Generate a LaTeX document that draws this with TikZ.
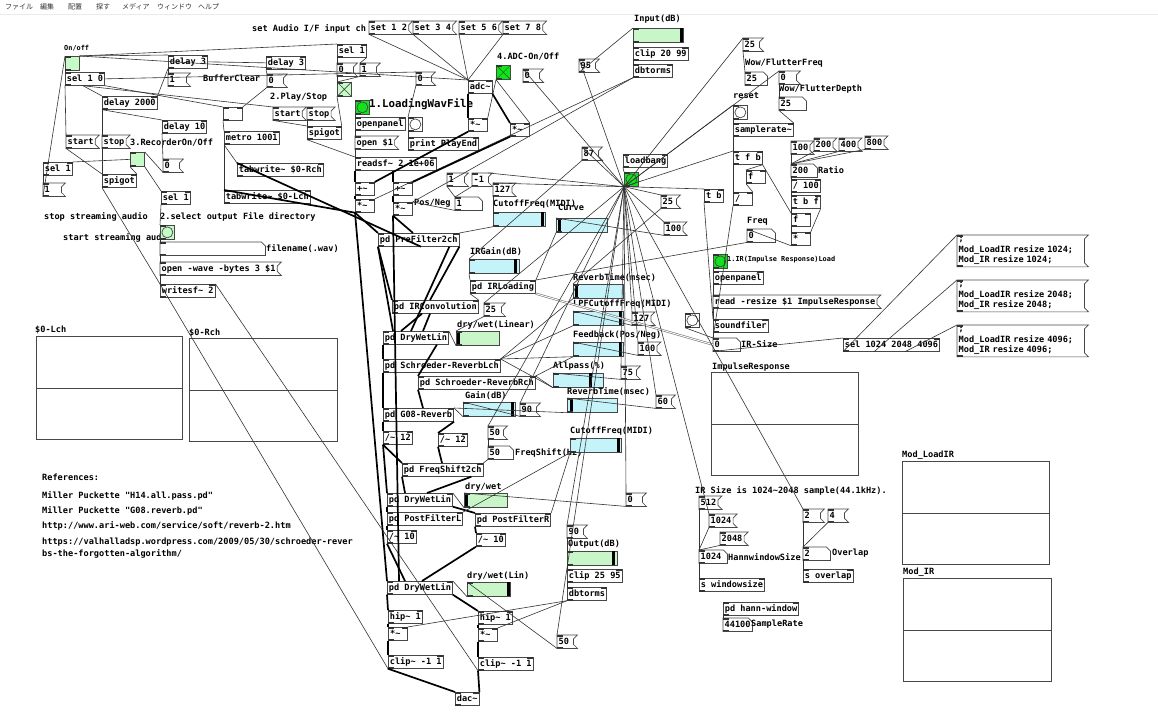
\documentclass[tikz,border=0pt]{standalone}
\usepackage{fontspec}
\setmonofont{DejaVu Sans Mono}
\newfontfamily\jpfont{Noto Sans CJK JP}
\usepackage{tikz}
\definecolor{tggreen}{RGB}{198,250,198}
\definecolor{bggreen}{RGB}{20,225,30}
\definecolor{slcyan}{RGB}{196,244,250}
\definecolor{slgreen}{RGB}{200,246,200}
\def\pdfont{\fontsize{8.6}{10.5}\selectfont\ttfamily\bfseries}
\def\pdsmall{\fontsize{6.9}{8}\selectfont\ttfamily\bfseries}
\def\pdbig{\fontsize{10.8}{12}\selectfont\ttfamily\bfseries}
\tikzset{
  pdline/.style={draw=black!72, line width=0.7pt},
  pdtxt/.style={anchor=north west, inner xsep=1.5pt, inner ysep=0pt, minimum height=13pt, text height=7pt, text depth=2pt, font=\pdfont},
  pdobj/.style={pdtxt, pdline, minimum width=19pt},
  pdcom/.style={anchor=north west, inner sep=0pt, font=\pdfont},
  pdsl/.style={pdline, anchor=north west, minimum height=14pt, inner sep=0pt},
  pdtg/.style={pdline, anchor=north west, minimum size=14pt, inner sep=0pt},
  pdarr/.style={pdline, anchor=north west, inner sep=0pt},
  menu/.style={anchor=west, inner sep=0pt, text=black!80, font=\jpfont\fontsize{7}{8}\selectfont},
  ctl/.style={black!80, line width=0.6pt},
  sig/.style={black, line width=1.7pt},
  irline/.style={black!55, double=white, double distance=0.9pt, line width=0.6pt},
}
\def\ports(#1){\fill[black!80] (#1.north west) rectangle ++(6,1.8); \fill[black!80] (#1.south west) rectangle ++(6,-1.8);}
\def\obj(#1)(#2)#3{\node[pdobj] (#1) at (#2) {#3}; \ports(#1) \fill[black!80] ([xshift=-6pt]#1.north east) rectangle ++(6,1.8);}
\def\msg[#1](#2)(#3)#4{\node[pdtxt,#1] (#2) at (#3) {#4};
  \draw[pdline] (#2.north west) -- ([xshift=4pt]#2.north east) -- ([yshift=-4pt]#2.north east) -- ([yshift=4pt]#2.south east) -- ([xshift=4pt]#2.south east) -- (#2.south west) -- cycle; \ports(#2)}
\def\num[#1](#2)(#3)#4{\node[pdtxt,#1] (#2) at (#3) {#4};
  \draw[pdline] (#2.north west) -- ([xshift=-4pt]#2.north east) -- ([yshift=-4pt]#2.north east) -- (#2.south east) -- (#2.south west) -- cycle; \ports(#2)}
\def\com(#1)(#2)#3{\node[pdcom] (#1) at (#2) {#3};}
\def\hsl(#1)(#2)#3#4#5{\node[pdsl, minimum width=#3pt, fill=#4] (#1) at (#2) {};
  \fill[black] ([xshift=#5pt]#1.north west) rectangle ++(3,14); \ports(#1)}
\def\tgl(#1)(#2)#3{\node[pdtg, fill=#3] (#1) at (#2) {}; \ports(#1)}
\def\bng(#1)(#2)#3{\node[pdtg, fill=#3] (#1) at (#2) {}; \draw[pdline] (#1.center) circle (5.5); \ports(#1)}
\def\arr(#1)(#2)#3#4{\node[pdarr, minimum width=#3pt, minimum height=#4pt] (#1) at (#2) {}; \draw[pdline] (#1.west) -- (#1.east);}

\begin{document}
\begin{tikzpicture}[x=1pt,y=-1pt]
			%%%%% START %%%%%
			\useasboundingbox (0,0) rectangle (1158,720);
			\fill[white] (0,0) rectangle (1158,720);
			
			\node[menu] (mnFile) at (5,7) {ファイル};
			\node[menu] (mnEdit) at (40,7) {編集};
			\node[menu] (mnPut) at (68,7) {配置};
			\node[menu] (mnFind) at (96,7) {探す};
			\node[menu] (mnMedia) at (122,7) {メディア};
			\node[menu] (mnWin) at (157,7) {ウィンドウ};
			\node[menu] (mnHelp) at (198,7) {ヘルプ};
			\draw[black!8] (0,14) -- (1158,14);
			
			\node[pdcom, font=\pdsmall] (cOnOff) at (64,45) {On/off};
			\tgl(tgOn)(65,56){tggreen}
			\obj(selA)(65,72){sel 1 0}
			\obj(dlyA)(168,55){delay 3}
			\obj(dlyB)(266,56){delay 3}
			\msg[text width=15pt](mOneA)(168,73){1}
			\com(cBuf)(203,75){BufferClear}
			\msg[text width=13pt](mZeroA)(267,74){0}
			\obj(dly2000)(102,96){delay 2000}
			\obj(eBox)(223,107){\hspace{8pt}}
			\com(cPlay)(270,93){2.Play/Stop}
			\msg[](mStartA)(273,107){start}
			\msg[](mStopA)(307,107){stop}
			\obj(spigotA)(307,126){spigot}
			\obj(dly10)(162,120){delay 10}
			\obj(metro)(224,131){metro 1001}
			\msg[](mStartB)(66,135){start}
			\msg[](mStopB)(102,135){stop}
			\com(cRec)(130,139){3.RecorderOn/Off}
			\tgl(tgRec)(130,152){tggreen}
			\msg[text width=13pt](mZeroB)(163,159){0}
			\obj(selB)(43,162){sel 1}
			\msg[text width=15pt](mOneB)(43,183){1}
			\obj(spigotB)(102,174){spigot}
			\obj(selC)(161,191){sel 1}
			\obj(tabR)(237,163){tabwrite\textasciitilde{} \$0-Rch}
			\obj(tabL)(224,190){tabwrite\textasciitilde{} \$0-Lch}
			\com(cStop)(44,212){stop streaming audio}
			\com(cDir)(160,212){2.select output File directory}
			\com(cStart)(63,233){start streaming audio}
			\bng(bngRec)(160,225){tggreen}
			\num[text width=102pt](symFile)(160,242){}
			\com(cFile)(266,244){filename(.wav)}
			\msg[](mOpenWav)(160,262){open -wave -bytes 3 \$1}
			\obj(writesf)(160,284){writesf\textasciitilde{} 2}
			
			\com(cLch)(35,326){\$0-Lch}
			\arr(arrL)(36,336){146}{103}
			\com(cRch)(189,329){\$0-Rch}
			\arr(arrR)(189,338){148}{103}
			
			\com(cRef)(42,474){References:}
			\com(cRefA)(42,491){Miller Puckette "H14.all.pass.pd"}
			\com(cRefB)(42,506){Miller Puckette "G08.reverb.pd"}
			\com(cRefC)(42,521){http://www.ari-web.com/service/soft/reverb-2.htm}
			\com(cRefD)(42,538){https://valhalladsp.wordpress.com/2009/05/30/schroeder-rever}
			\com(cRefE)(42,549){bs-the-forgotten-algorithm/}
			
			\com(cSet)(252,24){set Audio I/F input ch}
			\msg[](mSet12)(369,21){set 1 2}
			\msg[](mSet34)(413,21){set 3 4}
			\msg[](mSet56)(459,21){set 5 6}
			\msg[](mSet78)(503,21){set 7 8}
			\obj(selD)(337,44){sel 1}
			\msg[text width=13pt](mZeroC)(337,63){0}
			\msg[text width=13pt](mOneC)(360,63){1}
			\tgl(tgX)(337,82){tggreen}
			\draw[pdline] (tgX.north west) -- (tgX.south east) (tgX.north east) -- (tgX.south west);
			\msg[text width=12pt](mZeroD)(416,72){0}
			\obj(adc)(468,80){adc\textasciitilde}
			\com(cADC)(497,53){4.ADC-On/Off}
			\tgl(tgADC)(496,65){bggreen}
			\draw[black!60!green] (tgADC.north west) -- (tgADC.south east) (tgADC.north east) -- (tgADC.south west);
			\msg[text width=13pt](mZeroE)(523,69){0}
			\bng(bngLoad)(355,100){bggreen}
			\node[pdcom, font=\pdbig] (cLoad) at (369,99) {1.LoadingWavFile};
			\obj(openpanelA)(355,117){openpanel}
			\bng(bngPE)(408,117){white}
			\msg[](mOpen)(355,136){open \$1}
			\obj(printPE)(408,137){print PlayEnd}
			\obj(mulA)(468,118){*\textasciitilde\hphantom{0}}
			\obj(mulB)(510,123){*\textasciitilde\hphantom{0}}
			\obj(readsf)(355,157){readsf\textasciitilde{} 2 1e+06}
			\obj(addL)(355,182){+\textasciitilde\hphantom{0}}
			\obj(mulL)(355,199){*\textasciitilde\hphantom{0}}
			\obj(addR)(393,182){+\textasciitilde\hphantom{0}}
			\obj(mulR)(393,202){*\textasciitilde\hphantom{0}}
			\com(cPN)(414,199){Pos/Neg}
			\num[text width=24pt](numPN)(455,197){1}
			\msg[text width=14pt](mOneD)(447,173){1}
			\msg[text width=13pt](mNegOne)(472,173){-1}
			\msg[](m127A)(493,183){127}
			\com(cCutA)(493,200){CutoffFreq(MIDI)}
			\hsl(slCutA)(493,212){52}{slcyan}{48}
			\obj(preF)(378,233){pd PreFilter2ch}
			
			\obj(loadbang)(623,154){loadbang}
			\bng(bngLB)(624,172){bggreen}
			\msg[text width=13pt](m87)(582,147){87}
			\msg[text width=13pt](m95)(579,59){95}
			\com(cIn)(634,15){Input(dB)}
			\hsl(slIn)(633,28){50}{slgreen}{47}
			\obj(clipIn)(633,47){clip 20 99}
			\obj(dbtIn)(633,64){dbtorms}
			\msg[text width=12pt](m25A)(661,195){25}
			\com(cCurve)(558,204){Curve}
			\hsl(slCurve)(556,218){51}{slcyan}{2}
			\msg[](m100A)(664,222){100}
			
			\msg[text width=13pt](m25B)(743,38){25}
			\com(cWowF)(745,59){Wow/FlutterFreq}
			\num[text width=19pt](numWowF)(745,72){25}
			\msg[text width=14pt](mZeroF)(779,71){0}
			\com(cWowD)(779,85){Wow/FlutterDepth}
			\num[text width=24pt](numWowD)(779,97){25}
			\com(cReset)(733,92){reset}
			\bng(bngReset)(733,105){white}
			\obj(sr)(733,123){samplerate\textasciitilde}
			\obj(tfb)(733,151){t f b}
			\obj(fA)(746,170){f\hphantom{00}}
			\obj(divA)(733,192){/\hphantom{00}}
			\obj(tb)(704,189){t b}
			\com(cFreq)(747,217){Freq}
			\num[text width=25pt](numFreq)(747,229){0}
			\msg[](m100B)(791,141){100}
			\msg[](m200)(814,138){200}
			\msg[](m400)(839,138){400}
			\msg[](m800)(865,136){800}
			\num[text width=23pt](numRatio)(791,164){200}
			\com(cRatio)(818,166){Ratio}
			\obj(div100)(791,179){/ 100}
			\obj(tbf)(791,195){t b f}
			\obj(fB)(791,213){f\hphantom{00}}
			\obj(mulC)(791,232){*\hphantom{00}}
			
			\bng(bngIR)(713,254){bggreen}
			\node[pdcom, font=\pdsmall] (cIR) at (727,256) {1.IR(Impulse Response)Load};
			\obj(openpanelB)(713,271){openpanel}
			\msg[](mRead)(713,295){read -resize \$1 ImpulseResponse}
			\bng(bngSF)(685,313){white}
			\obj(sfiler)(713,319){soundfiler}
			\num[text width=24pt](numIR)(713,338){0}
			\com(cIRSize)(741,340){IR-Size}
			\obj(selIR)(843,338){sel 1024 2048 4096}
			\msg[text width=124pt, align=left, text height={}, text depth={}, inner ysep=2pt](m1024)(957,235){;\\Mod\_LoadIR resize 1024;\\Mod\_IR resize 1024;}
			\msg[text width=124pt, align=left, text height={}, text depth={}, inner ysep=2pt](m2048)(957,280){;\\Mod\_LoadIR resize 2048;\\Mod\_IR resize 2048;}
			\msg[text width=124pt, align=left, text height={}, text depth={}, inner ysep=2pt](m4096)(957,325){;\\Mod\_LoadIR resize 4096;\\Mod\_IR resize 4096;}
			\com(cIRResp)(712,363){ImpulseResponse}
			\arr(arrIR)(711,372){147}{103}
			\com(cIRNote)(695,486){IR Size is 1024\textasciitilde 2048 sample(44.1kHz).}
			\msg[](m512)(699,496){512}
			\msg[](m1024b)(709,514){1024}
			\msg[](m2048b)(720,532){2048}
			\num[text width=25pt](numHann)(699,550){1024}
			\com(cHann)(728,553){HannwindowSize}
			\obj(sWin)(699,578){s windowsize}
			\obj(hann)(723,602){pd hann-window}
			\num[text width=26pt](numSR)(723,618){44100}
			\com(cSR)(751,620){SampleRate}
			\msg[text width=14pt](mTwo)(803,509){2}
			\msg[text width=13pt](mFour)(828,509){4}
			\num[text width=24pt](numOv)(803,547){2}
			\com(cOv)(832,549){Overlap}
			\obj(sOv)(803,569){s overlap}
			\com(cML)(902,451){Mod\_LoadIR}
			\arr(arrML)(902,461){147}{103}
			\com(cMI)(903,568){Mod\_IR}
			\arr(arrMI)(903,578){148}{103}
			
			\com(cIRG)(470,247){IRGain(dB)}
			\hsl(slIRG)(469,259){50}{slcyan}{45}
			\obj(irLoad)(470,280){pd IRLoading}
			\obj(irConv)(392,300){pd IRConvolution}
			\msg[text width=14pt](m25C)(484,303){25}
			\com(cDW1)(457,320){dry/wet(Linear)}
			\hsl(slDW1)(456,331){43}{slgreen}{1}
			\obj(dwl1)(383,331){pd DryWetLin}
			\com(cRTA)(573,273){ReverbTime(msec)}
			\hsl(slRTA)(573,284){50}{slcyan}{2}
			\com(cLPF)(573,300){LPFCutoffFreq(MIDI)}
			\hsl(slLPF)(573,311){50}{slcyan}{46}
			\msg[](m127B)(632,312){127}
			\com(cFB)(573,331){Feedback(Pos/Neg)}
			\hsl(slFB)(573,342){50}{slcyan}{46}
			\msg[](m100C)(638,342){100}
			\obj(schL)(383,359){pd Schroeder-ReverbLch}
			\obj(schR)(418,376){pd Schroeder-ReverbRch}
			\com(cAP)(553,362){Allpass(\%)}
			\hsl(slAP)(553,373){50}{slcyan}{36}
			\msg[text width=12pt](m75)(621,366){75}
			\com(cRTB)(567,387){ReverbTime(msec)}
			\hsl(slRTB)(567,398){50}{slcyan}{3}
			\msg[text width=12pt](m60)(656,395){60}
			\com(cGain)(465,391){Gain(dB)}
			\hsl(slGain)(463,402){52}{slcyan}{48}
			\msg[text width=13pt](m90A)(520,403){90}
			\obj(g08)(383,408){pd G08-Reverb}
			\obj(divL12)(383,431){/\textasciitilde{} 12}
			\obj(divR12)(438,433){/\textasciitilde{} 12}
			\msg[text width=12pt](m50A)(488,426){50}
			\num[text width=22pt](numFS)(488,446){50}
			\com(cFS)(515,448){FreqShift(Hz)}
			\com(cCutB)(570,427){CutoffFreq(MIDI)}
			\hsl(slCutB)(570,438){51}{slcyan}{47}
			\obj(fshift)(402,463){pd FreqShift2ch}
			\com(cDW2)(465,483){dry/wet}
			\hsl(slDW2)(464,493){43}{slgreen}{1}
			\msg[text width=13pt](mZeroG)(626,493){0}
			\obj(dwl2)(387,493){pd DryWetLin}
			\obj(postL)(387,512){pd PostFilterL}
			\obj(postR)(475,513){pd PostFilterR}
			\obj(divL10)(387,530){/\textasciitilde{} 10}
			\obj(divR10)(476,533){/\textasciitilde{} 10}
			\msg[text width=13pt](m90B)(567,525){90}
			\com(cOut)(568,540){Output(dB)}
			\hsl(slOut)(567,551){50}{slgreen}{45}
			\obj(clipOut)(567,569){clip 25 95}
			\obj(dbtOut)(567,587){dbtorms}
			\obj(dwl3)(387,581){pd DryWetLin}
			\com(cDW3)(467,571){dry/wet(Lin)}
			\hsl(slDW3)(467,582){43}{slgreen}{40}
			\obj(hipL)(388,610){hip\textasciitilde{} 1}
			\obj(hipR)(478,611){hip\textasciitilde{} 1}
			\obj(mulOL)(388,627){*\textasciitilde\hphantom{0}}
			\obj(mulOR)(478,628){*\textasciitilde\hphantom{0}}
			\msg[text width=13pt](m50B)(557,635){50}
			\obj(clipL)(388,655){clip\textasciitilde{} -1 1}
			\obj(clipR)(478,657){clip\textasciitilde{} -1 1}
			\obj(dac)(455,692){dac\textasciitilde}
			
			\draw[ctl] (mOneB.south west) -- (tgOn.north west);
			\draw[ctl] (tgOn.south west) -- (selA.north west);
			\draw[ctl] (selA.south west) -- (mStartB.north west);
			\draw[ctl] ([xshift=18pt]selA.south west) -- (mStartA.north west);
			\draw[ctl] ([xshift=18pt]selA.south west) -- (dly2000.north west);
			\draw[ctl] (selA.south east) -- (eBox.north west);
			\draw[ctl] (selA.east) -- (mZeroD.north west);
			\draw[ctl] (tgOn.north east) -- (dlyA.north west);
			\draw[ctl] (tgOn.north east) -- (selD.north west);
			\draw[ctl] (tgOn.north east) -- (adc.north west);
			\draw[ctl] (dlyA.south west) -- (mOneA.north west);
			\draw[ctl] (dlyA.south west) -- (dly2000.north east);
			\draw[ctl] (dlyA.east) -- (dlyB.west);
			\draw[ctl] (dlyB.south west) -- (mZeroA.north west);
			\draw[ctl] (mZeroA.south west) -- (eBox.north east);
			\draw[ctl] (eBox.south west) -- (metro.north west);
			\draw[ctl] (metro.south west) -- (tabR.north west);
			\draw[ctl] (metro.south west) -- (tabL.north west);
			\draw[ctl] (dly2000.south west) -- (mStopB.north west);
			\draw[ctl] (dly2000.south west) -- (dly10.north west);
			\draw[ctl] (dly10.south west) -- (mZeroB.north west);
			\draw[ctl] (mZeroB.south west) -- (tgRec.north east);
			\draw[ctl] (mStartB.south west) -- (spigotB.north west);
			\draw[ctl] (mStopB.south west) -- (spigotB.north west);
			\draw[ctl] (tgRec.south west) -- (spigotB.north east);
			\draw[ctl] (tgRec.south east) -- (selC.north west);
			\draw[ctl] (tgRec.west) -- (selB.north east);
			\draw[ctl] (selB.south west) -- (mOneB.north west);
			\draw[ctl] (selC.south west) -- (bngRec.north west);
			\draw[ctl] (bngRec.south west) -- (symFile.north west);
			\draw[ctl] (symFile.south west) -- (mOpenWav.north west);
			\draw[ctl] (mOpenWav.south west) -- (writesf.north west);
			\draw[ctl] (spigotB.south west) -- (writesf.north west);
			\draw[ctl] (clipL.south west) -- (writesf.north west);
			\draw[ctl] (clipR.south west) -- (writesf.north east);
			
			\draw[ctl] (mStartA.south west) -- (spigotA.north west);
			\draw[ctl] (mStopA.south west) -- (spigotA.north west);
			\draw[ctl] (spigotA.south west) -- (readsf.north west);
			\draw[ctl] (tgX.south west) -- (spigotA.north east);
			\draw[ctl] (selD.south west) -- (mZeroC.north west);
			\draw[ctl] (selD.south east) -- (mOneC.north west);
			\draw[ctl] (mZeroC.south west) -- (tgX.north west);
			\draw[ctl] (mOneC.south west) -- (tgX.north west);
			\draw[ctl] (mSet12.south west) -- (adc.north west);
			\draw[ctl] (mSet34.south west) -- (adc.north west);
			\draw[ctl] (mSet56.south west) -- (adc.north west);
			\draw[ctl] (mSet78.south west) -- (adc.north west);
			\draw[ctl] (tgADC.south west) -- (mulA.north east);
			\draw[ctl] (tgADC.south west) -- (mulB.north east);
			\draw[ctl] (mZeroD.south west) -- (bngPE.north west);
			\draw[ctl] (bngPE.south west) -- (printPE.north west);
			\draw[ctl] (bngLoad.south west) -- (openpanelA.north west);
			\draw[ctl] (openpanelA.south west) -- (mOpen.north west);
			\draw[ctl] (mOpen.south west) -- (readsf.north west);
			\draw[ctl] (m95.south west) -- (slIn.north west);
			\draw[ctl] (slIn.south west) -- (clipIn.north west);
			\draw[ctl] (clipIn.south west) -- (dbtIn.north west);
			\draw[ctl] (dbtIn.south west) -- (mulL.north east);
			\draw[ctl] (dbtIn.south west) -- (mulR.north east);
			\draw[ctl] (mOneD.south west) -- (numPN.north west);
			\draw[ctl] (mNegOne.south west) -- (numPN.north west);
			\draw[ctl] (numPN.south west) -- (mulR.north east);
			
			\draw[sig] (readsf.south west) -- (addL.north west);
			\draw[sig] ([xshift=38pt]readsf.south west) -- (addR.north west);
			\draw[sig] (adc.south west) -- (mulA.north west);
			\draw[sig] (adc.south east) -- (mulB.north west);
			\draw[sig] (mulA.south west) -- (addL.north east);
			\draw[sig] (mulB.south west) -- (addR.north east);
			\draw[sig] (addL.south west) -- (mulL.north west);
			\draw[sig] (addR.south west) -- (mulR.north west);
			\draw[sig] (mulL.south west) -- (tabL.north west);
			\draw[sig] ([xshift=43pt]preF.south west) -- (tabR.north west);
			\draw[sig] (mulL.south west) -- (preF.north west);
			\draw[sig] (mulR.south west) -- ([xshift=35pt]preF.north west);
			\draw[sig] (mulL.south west) -- (dwl3.north west);
			\draw[sig] (mulR.south west) -- ([xshift=12pt]dwl3.north west);
			\draw[sig] (preF.south west) -- (irConv.north west);
			\draw[sig] (preF.south east) -- ([xshift=38pt]irConv.north west);
			\draw[sig] (preF.south west) -- ([xshift=10pt]dwl1.north west);
			\draw[sig] ([xshift=-10pt]preF.south east) -- ([xshift=28pt]dwl1.north west);
			\draw[sig] ([xshift=30pt]irConv.south west) -- ([xshift=18pt]dwl1.north west);
			\draw[sig] ([xshift=38pt]irConv.south west) -- ([xshift=40pt]dwl1.north west);
			\draw[sig] (dwl1.south west) -- (schL.north west);
			\draw[sig] ([xshift=-12pt]dwl1.south east) -- (schR.north west);
			\draw[sig] (schL.south west) -- (g08.north west);
			\draw[sig] (schR.south west) -- ([xshift=40pt]g08.north west);
			\draw[sig] (g08.south west) -- (divL12.north west);
			\draw[sig] (g08.south east) -- (divR12.north west);
			\draw[sig] (divL12.south west) -- (fshift.north west);
			\draw[sig] (divR12.south west) -- ([xshift=40pt]fshift.north west);
			\draw[sig] (divL12.south west) -- (dwl2.north west);
			\draw[sig] (fshift.south west) -- ([xshift=18pt]dwl2.north west);
			\draw[sig] ([xshift=-12pt]fshift.south east) -- ([xshift=40pt]dwl2.north west);
			\draw[sig] (dwl2.south west) -- (postL.north west);
			\draw[sig] (dwl2.south east) -- (postR.north west);
			\draw[sig] (postL.south west) -- (divL10.north west);
			\draw[sig] (postR.south west) -- (divR10.north west);
			\draw[sig] (divL10.south west) -- ([xshift=18pt]dwl3.north west);
			\draw[sig] (divR10.south west) -- ([xshift=35pt]dwl3.north west);
			\draw[sig] (dwl3.south west) -- (hipL.north west);
			\draw[sig] (dwl3.south east) -- (hipR.north west);
			\draw[sig] (hipL.south west) -- (mulOL.north west);
			\draw[sig] (hipR.south west) -- (mulOR.north west);
			\draw[sig] (mulOL.south west) -- (clipL.north west);
			\draw[sig] (mulOR.south west) -- (clipR.north west);
			\draw[sig] (clipL.south west) -- (dac.north west);
			\draw[sig] (clipR.south west) -- (dac.north east);
			
			\draw[ctl] (dbtOut.south west) -- (mulOL.north east);
			\draw[ctl] (dbtOut.south west) -- (mulOR.north east);
			\draw[ctl] (slOut.south west) -- (clipOut.north west);
			\draw[ctl] (clipOut.south west) -- (dbtOut.north west);
			\draw[ctl] (m90B.south west) -- (slOut.north west);
			\draw[ctl] (m50B.south west) -- (slDW3.north west);
			\draw[ctl] (slDW3.south west) -- (dwl3.north east);
			\draw[ctl] (slDW2.south west) -- (dwl2.north east);
			\draw[ctl] (mZeroG.south west) -- (slDW2.north west);
			\draw[ctl] (slCutB.south west) -- (postL.north east);
			\draw[ctl] (slCutB.south west) -- (postR.north east);
			\draw[ctl] (m50A.south west) -- (numFS.north west);
			\draw[ctl] (numFS.south west) -- (fshift.north east);
			\draw[ctl] (m90A.south west) -- (slGain.north west);
			\draw[ctl] (slGain.south west) -- (g08.north east);
			\draw[ctl] (m60.south west) -- (slRTB.north west);
			\draw[ctl] (slRTB.south west) -- (g08.north east);
			\draw[ctl] (m75.south west) -- (slAP.north west);
			\draw[ctl] (slAP.south west) -- (schR.north east);
			\draw[ctl] (slAP.south west) -- (schL.north east);
			\draw[ctl] (m100C.south west) -- (slFB.north west);
			\draw[ctl] (slFB.south west) -- (schL.north east);
			\draw[ctl] (slFB.south west) -- (schR.north east);
			\draw[ctl] (m127B.south west) -- (slLPF.north west);
			\draw[ctl] (slLPF.south west) -- (schL.north east);
			\draw[ctl] (m25A.south west) -- (slRTA.north west);
			\draw[ctl] (slRTA.south west) -- (schL.north east);
			\draw[ctl] (m25C.south west) -- (slDW1.north west);
			\draw[ctl] (slDW1.south west) -- (dwl1.north east);
			\draw[ctl] (slIRG.south west) -- (irLoad.north west);
			\draw[ctl] (irLoad.south west) -- (irConv.north east);
			\draw[ctl] (m87.south west) -- (slIRG.north west);
			\draw[ctl] (m100A.south west) -- (slCurve.north west);
			\draw[ctl] (slCurve.south west) -- (irLoad.north east);
			\draw[ctl] (m127A.south west) -- (slCutA.north west);
			\draw[ctl] (slCutA.south west) -- (preF.north east);
			\draw[ctl] (numFreq.south west) -- (irLoad.north east);
			\draw[irline] (irLoad.south east) -- (numIR.west);
			
			\draw[ctl] (loadbang.south west) -- (bngLB.north west);
			\draw[ctl] (bngLB.south west) -- (m95.north west);
			\draw[ctl] (bngLB.south west) -- (mZeroE.north west);
			\draw[ctl] (bngLB.south west) -- (m87.north west);
			\draw[ctl] (bngLB.south west) -- (mNegOne.north east);
			\draw[ctl] (bngLB.south west) -- (m127A.north west);
			\draw[ctl] (bngLB.south west) -- (m25A.north west);
			\draw[ctl] (bngLB.south west) -- (m100A.north west);
			\draw[ctl] (bngLB.south west) -- (m25B.north west);
			\draw[ctl] (bngLB.south west) -- (mZeroF.north west);
			\draw[ctl] (bngLB.south west) -- (bngReset.north west);
			\draw[ctl] (bngLB.south west) -- (tfb.north west);
			\draw[ctl] (bngLB.south west) -- (tb.north west);
			\draw[ctl] (bngLB.south west) -- (m25C.north west);
			\draw[ctl] (bngLB.south west) -- (m127B.north west);
			\draw[ctl] (bngLB.south west) -- (m100C.north west);
			\draw[ctl] (bngLB.south west) -- (m75.north west);
			\draw[ctl] (bngLB.south west) -- (m60.north west);
			\draw[ctl] (bngLB.south west) -- (m90A.north west);
			\draw[ctl] (bngLB.south west) -- (m50A.north west);
			\draw[ctl] (bngLB.south west) -- (mZeroG.north west);
			\draw[ctl] (bngLB.south west) -- (m90B.north west);
			\draw[ctl] (bngLB.south west) -- (m50B.north west);
			\draw[ctl] (bngLB.south west) -- (m1024b.north west);
			\draw[ctl] (bngLB.south west) -- (mTwo.north west);
			
			\draw[ctl] (m25B.south west) -- (numWowF.north west);
			\draw[ctl] (mZeroF.south west) -- (numWowD.north west);
			\draw[ctl] (numWowD.south west) -- (sr.north east);
			\draw[ctl] (bngReset.south west) -- (sr.north west);
			\draw[ctl] (sr.south west) -- (tfb.north west);
			\draw[ctl] (tfb.south west) -- (divA.north west);
			\draw[ctl] (tfb.south east) -- (fA.north west);
			\draw[ctl] (fA.south west) -- (divA.north east);
			\draw[ctl] (tfb.south east) -- (fB.north west);
			\draw[ctl] (m100B.south west) -- (numRatio.north west);
			\draw[ctl] (m200.south west) -- (numRatio.north west);
			\draw[ctl] (m400.south west) -- (numRatio.north west);
			\draw[ctl] (m800.south west) -- (numRatio.north west);
			\draw[ctl] (numRatio.south west) -- (div100.north west);
			\draw[ctl] (div100.south west) -- (tbf.north west);
			\draw[ctl] (tbf.south west) -- (fB.north west);
			\draw[ctl] (tbf.south east) -- (mulC.north east);
			\draw[ctl] (fB.south west) -- (mulC.north west);
			\draw[ctl] (mulC.south west) -- (numFreq.north west);
			\draw[ctl] (divA.south west) -- (numIR.north west);
			\draw[ctl] (tb.south west) -- (sfiler.north west);
			
			\draw[ctl] (bngIR.south west) -- (openpanelB.north west);
			\draw[ctl] (openpanelB.south west) -- (mRead.north west);
			\draw[ctl] (mRead.south west) -- (sfiler.north west);
			\draw[ctl] (sfiler.south west) -- (numIR.north west);
			\draw[ctl] (bngSF.south west) -- (numIR.north west);
			\draw[ctl] (numIR.south west) -- (selIR.north west);
			\draw[ctl] (selIR.south west) -- (m1024.north west);
			\draw[ctl] ([xshift=31pt]selIR.south west) -- (m2048.north west);
			\draw[ctl] ([xshift=62pt]selIR.south west) -- (m4096.north west);
			\draw[ctl] (m512.south west) -- (numHann.north west);
			\draw[ctl] (m1024b.south west) -- (numHann.north west);
			\draw[ctl] (m2048b.south west) -- (numHann.north west);
			\draw[ctl] (numHann.south west) -- (sWin.north west);
			\draw[ctl] (hann.south west) -- (numSR.north west);
			\draw[ctl] (mTwo.south west) -- (numOv.north west);
			\draw[ctl] (mFour.south west) -- (numOv.north west);
			\draw[ctl] (numOv.south west) -- (sOv.north west);
			
			%%%%% END %%%%%
\end{tikzpicture}
\end{document}
